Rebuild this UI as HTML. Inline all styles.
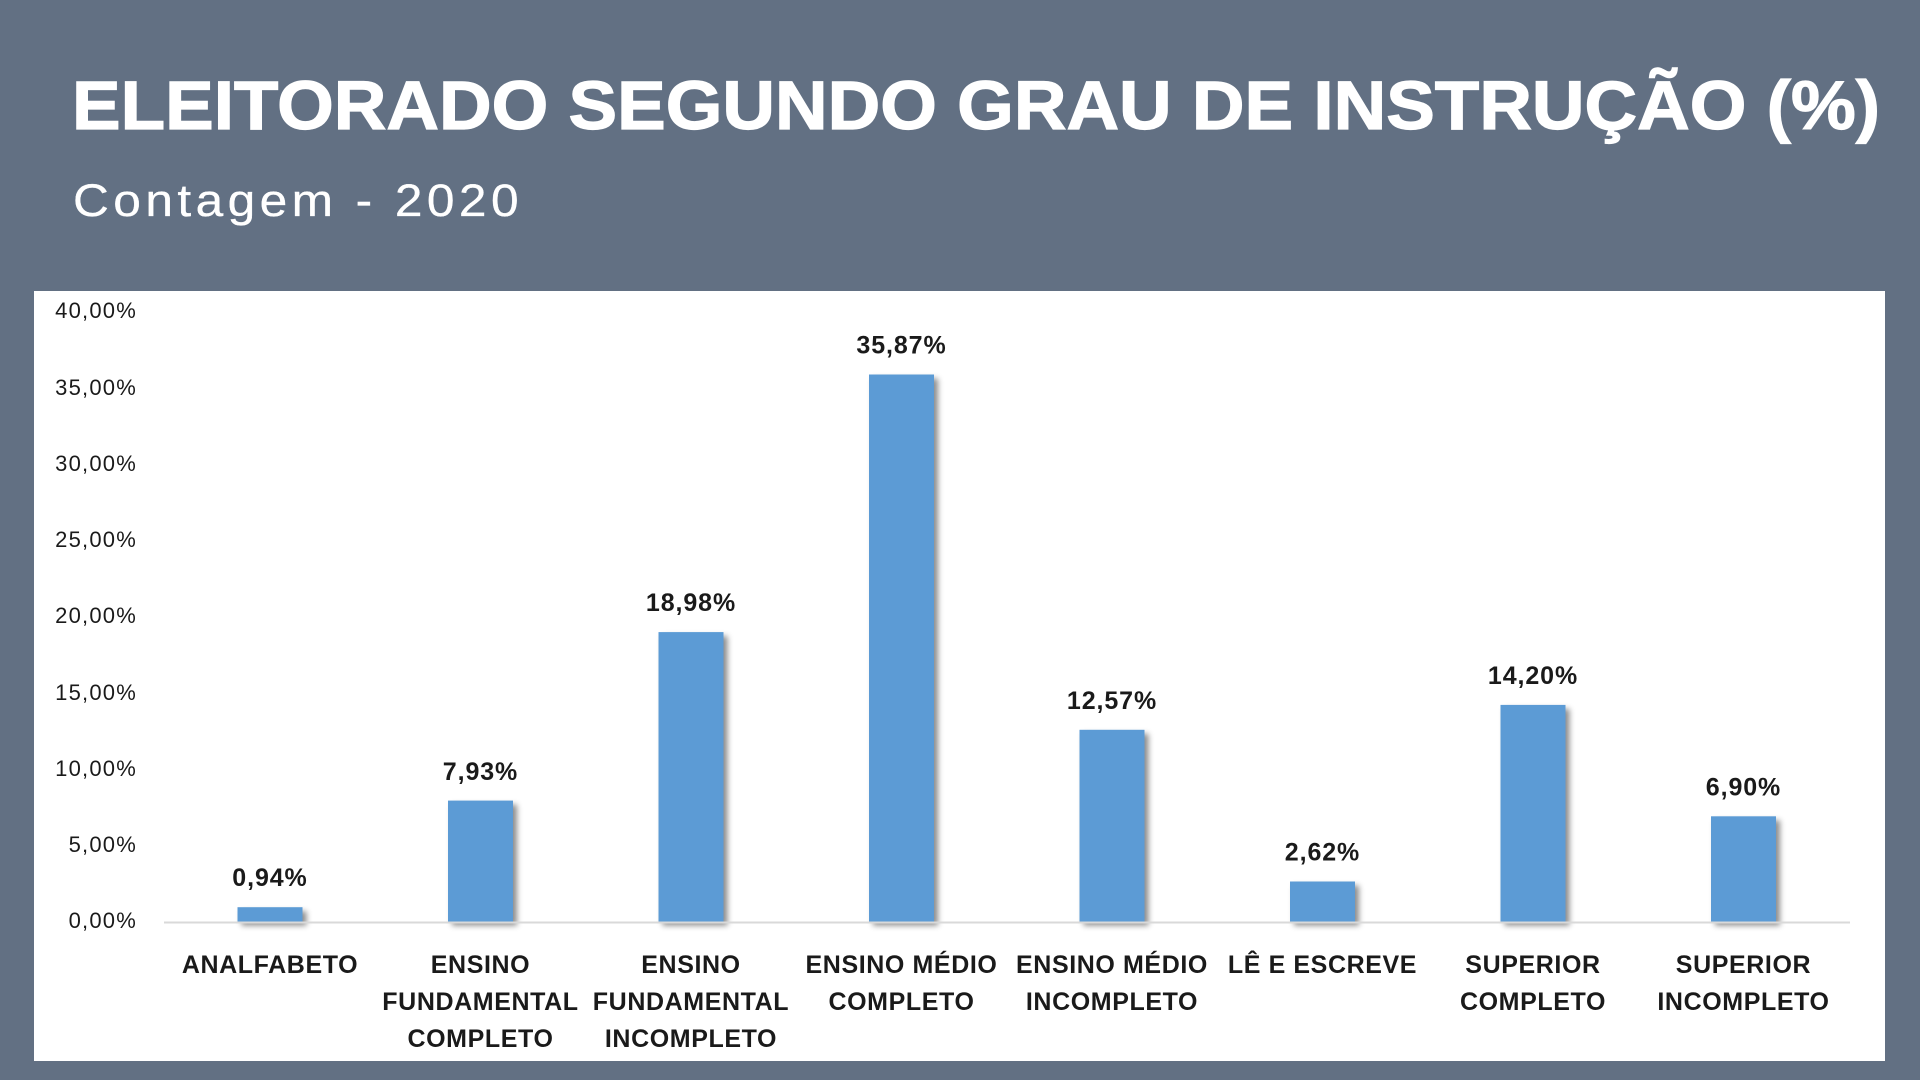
<!DOCTYPE html>
<html>
<head>
<meta charset="utf-8">
<style>
  html, body { margin: 0; padding: 0; width: 1920px; height: 1080px; overflow: hidden; background: #627083; }
  svg { display: block; }
  .title { font-family: "Liberation Sans", sans-serif; font-weight: bold; fill: #ffffff; stroke: #ffffff; stroke-width: 1.2px; }
  .sub { font-family: "Liberation Sans", sans-serif; fill: #ffffff; stroke: #ffffff; stroke-width: 0.3px; }
  .tick { font-family: "Liberation Sans", sans-serif; font-size: 22px; fill: #1a1a1a; letter-spacing: 1.2px; }
  .val { font-family: "Liberation Sans", sans-serif; font-weight: bold; font-size: 25px; fill: #1a1a1a; letter-spacing: 0.9px; }
  .cat { font-family: "Liberation Sans", sans-serif; font-weight: bold; font-size: 25px; fill: #1a1a1a; letter-spacing: 0.6px; }
</style>
</head>
<body>
<svg width="1920" height="1080" viewBox="0 0 1920 1080" xmlns="http://www.w3.org/2000/svg">
  <defs>
    <filter id="sh" x="-20%" y="-20%" width="150%" height="140%">
      <feDropShadow dx="4" dy="4" stdDeviation="3" flood-color="#000" flood-opacity="0.45"/>
    </filter>
  </defs>
  <rect x="0" y="0" width="1920" height="1080" fill="#627083"/>

  <text class="title" x="72" y="129" font-size="69" textLength="1808" lengthAdjust="spacingAndGlyphs">ELEITORADO SEGUNDO GRAU DE INSTRUÇÃO (%)</text>
  <text class="sub" x="73" y="216" font-size="45" letter-spacing="4" textLength="450" lengthAdjust="spacingAndGlyphs">Contagem - 2020</text>

  <rect x="34" y="291" width="1851" height="770" fill="#ffffff"/>

  <!-- y ticks -->
  <g text-anchor="end">
    <text class="tick" x="137" y="318">40,00%</text>
    <text class="tick" x="137" y="395">35,00%</text>
    <text class="tick" x="137" y="471">30,00%</text>
    <text class="tick" x="137" y="547">25,00%</text>
    <text class="tick" x="137" y="623">20,00%</text>
    <text class="tick" x="137" y="700">15,00%</text>
    <text class="tick" x="137" y="776">10,00%</text>
    <text class="tick" x="137" y="852">5,00%</text>
    <text class="tick" x="137" y="928">0,00%</text>
  </g>

  <!-- bars -->
  <g fill="#5b9bd5" filter="url(#sh)">
    <rect x="237.5" y="907.2" width="65" height="14.3"/>
    <rect x="448" y="800.6" width="65" height="120.9"/>
    <rect x="658.5" y="632.1" width="65" height="289.4"/>
    <rect x="869" y="374.5" width="65" height="547"/>
    <rect x="1079.5" y="729.8" width="65" height="191.7"/>
    <rect x="1290" y="881.5" width="65" height="40"/>
    <rect x="1500.5" y="704.9" width="65" height="216.6"/>
    <rect x="1711" y="816.3" width="65" height="105.2"/>
  </g>

  <!-- axis -->
  <line x1="164" y1="922.5" x2="1850" y2="922.5" stroke="#d9d9d9" stroke-width="2"/>

  <!-- value labels -->
  <g text-anchor="middle">
    <text class="val" x="270" y="886">0,94%</text>
    <text class="val" x="480.5" y="780">7,93%</text>
    <text class="val" x="691" y="611">18,98%</text>
    <text class="val" x="901.5" y="353.5">35,87%</text>
    <text class="val" x="1112" y="709">12,57%</text>
    <text class="val" x="1322.5" y="860.5">2,62%</text>
    <text class="val" x="1533" y="684">14,20%</text>
    <text class="val" x="1743.5" y="795.5">6,90%</text>
  </g>

  <!-- category labels -->
  <g text-anchor="middle">
    <text class="cat" x="270" y="973">ANALFABETO</text>

    <text class="cat" x="480.5" y="973">ENSINO</text>
    <text class="cat" x="480.5" y="1010">FUNDAMENTAL</text>
    <text class="cat" x="480.5" y="1047">COMPLETO</text>

    <text class="cat" x="691" y="973">ENSINO</text>
    <text class="cat" x="691" y="1010">FUNDAMENTAL</text>
    <text class="cat" x="691" y="1047">INCOMPLETO</text>

    <text class="cat" x="901.5" y="973">ENSINO MÉDIO</text>
    <text class="cat" x="901.5" y="1010">COMPLETO</text>

    <text class="cat" x="1112" y="973">ENSINO MÉDIO</text>
    <text class="cat" x="1112" y="1010">INCOMPLETO</text>

    <text class="cat" x="1322.5" y="973">LÊ E ESCREVE</text>

    <text class="cat" x="1533" y="973">SUPERIOR</text>
    <text class="cat" x="1533" y="1010">COMPLETO</text>

    <text class="cat" x="1743.5" y="973">SUPERIOR</text>
    <text class="cat" x="1743.5" y="1010">INCOMPLETO</text>
  </g>
</svg>
</body>
</html>
